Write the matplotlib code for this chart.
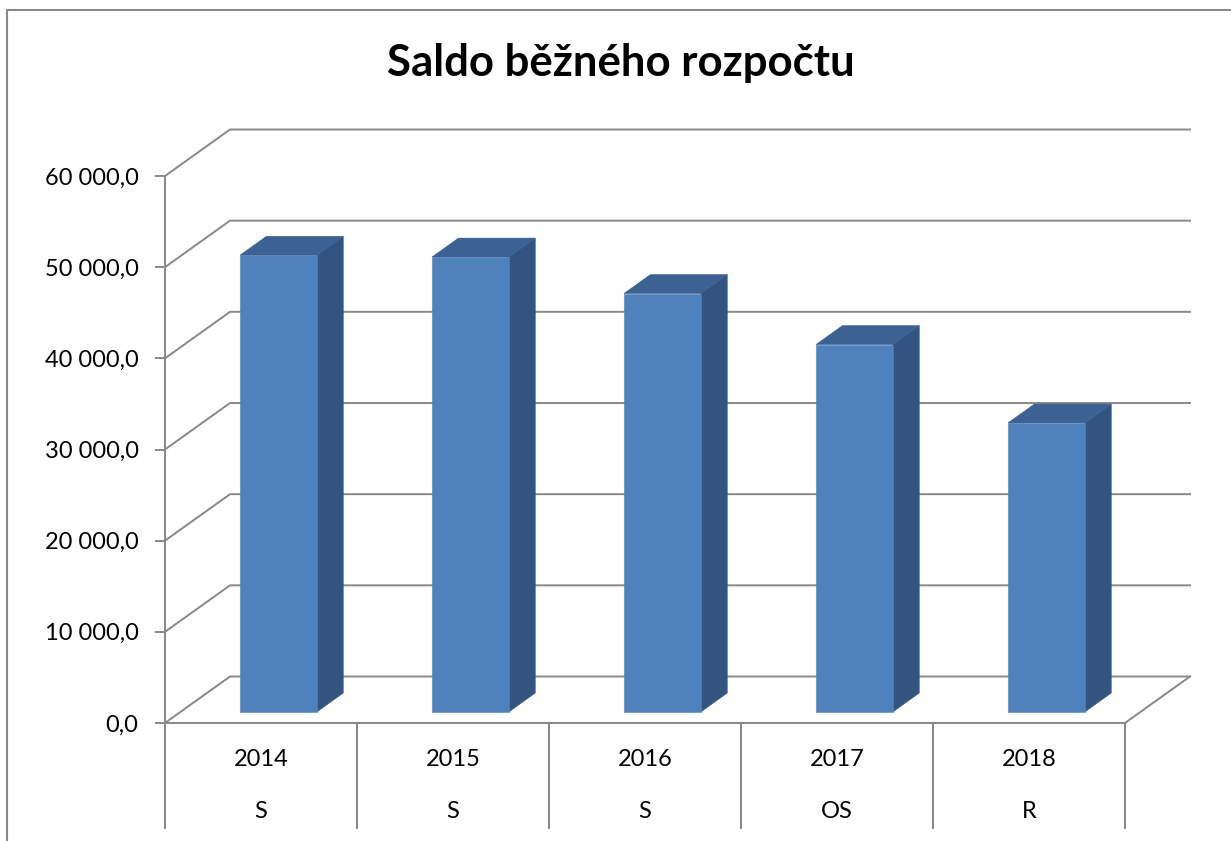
import matplotlib
matplotlib.use('Agg')
import matplotlib.pyplot as plt
from matplotlib.lines import Line2D

plt.rcParams['font.family'] = ['Lato', 'DejaVu Sans']

# data
years = ['2014', '2015', '2016', '2017', '2018']
kinds = ['S', 'S', 'S', 'OS', 'R']
values = [50100, 49900, 45900, 40300, 31700]
yticks = [0, 10000, 20000, 30000, 40000, 50000, 60000]
title = 'Saldo běžného rozpočtu'

# oblique "3D" look (Excel style)
DX = 0.3385      # depth shift in category units
DY = 5100        # depth shift in value units
d0, d1 = 0.237, 0.645   # bar front/back depth
bar_off, bar_w = 0.31, 0.40
grid_c = '#888888'
front_c, top_c, side_c = '#4F81BD', '#3B6293', '#335481'


def proj(x, y, d):
    return x + d * DX, y + d * DY


fig = plt.figure(figsize=(12.31, 8.41), dpi=100)
ax = fig.add_axes([165 / 1231, 1 - 723 / 841, 960 / 1231, 547 / 841])
ax.set_xlim(0, len(years))
ax.set_ylim(0, yticks[-1])

# walls: gridlines on left and back wall
n = len(years)
for v in yticks:
    xs = [0, DX, n + DX]
    ys = [v, v + DY, v + DY]
    ax.plot(xs, ys, color=grid_c, lw=1.4, zorder=1, clip_on=False)
# floor right edge
ax.plot([n + DX, n], [DY, 0], color=grid_c, lw=1.4, zorder=1, clip_on=False)

# bars
for i, v in enumerate(values):
    xl = i + bar_off
    xr = xl + bar_w
    front = [proj(xl, 0, d0), proj(xr, 0, d0), proj(xr, v, d0), proj(xl, v, d0)]
    side = [proj(xr, 0, d0), proj(xr, 0, d1), proj(xr, v, d1), proj(xr, v, d0)]
    top = [proj(xl, v, d0), proj(xr, v, d0), proj(xr, v, d1), proj(xl, v, d1)]
    for poly, c in [(side, side_c), (top, top_c), (front, front_c)]:
        px, py = zip(*poly)
        ax.fill(px, py, color=c, ec=c, lw=0.4, zorder=3, clip_on=False)

# axes
for s in ['top', 'right']:
    ax.spines[s].set_visible(False)
for s in ['left', 'bottom']:
    ax.spines[s].set_color(grid_c)
    ax.spines[s].set_linewidth(1.4)
ax.set_yticks(yticks)
ax.set_yticklabels([f"{v:,.1f}".replace(",", " ").replace(".", ",") for v in yticks])
ax.tick_params(axis='y', length=7, width=1.4, color=grid_c, pad=12, labelsize=17)
ax.set_xticks([])

# two-level category labels
tr = ax.get_xaxis_transform()
for k in range(n + 1):
    ax.plot([k, k], [0, -0.192], color=grid_c, lw=1.4, transform=tr, clip_on=False)
for i in range(n):
    ax.text(i + 0.5, -0.0676, years[i], transform=tr, ha='center', va='center', fontsize=17)
    ax.text(i + 0.5, -0.1627, kinds[i], transform=tr, ha='center', va='center', fontsize=17)

fig.text(621 / 1231, 1 - 63 / 841, title, ha='center', va='center',
         fontsize=31.5, fontweight='bold')

# chart border
fig.add_artist(Line2D([7 / 1231, 7 / 1231, 1.0], [0.0, 1 - 10 / 841, 1 - 10 / 841],
                      color=grid_c, lw=1.5, transform=fig.transFigure))

fig.savefig('out.png', dpi=100)
